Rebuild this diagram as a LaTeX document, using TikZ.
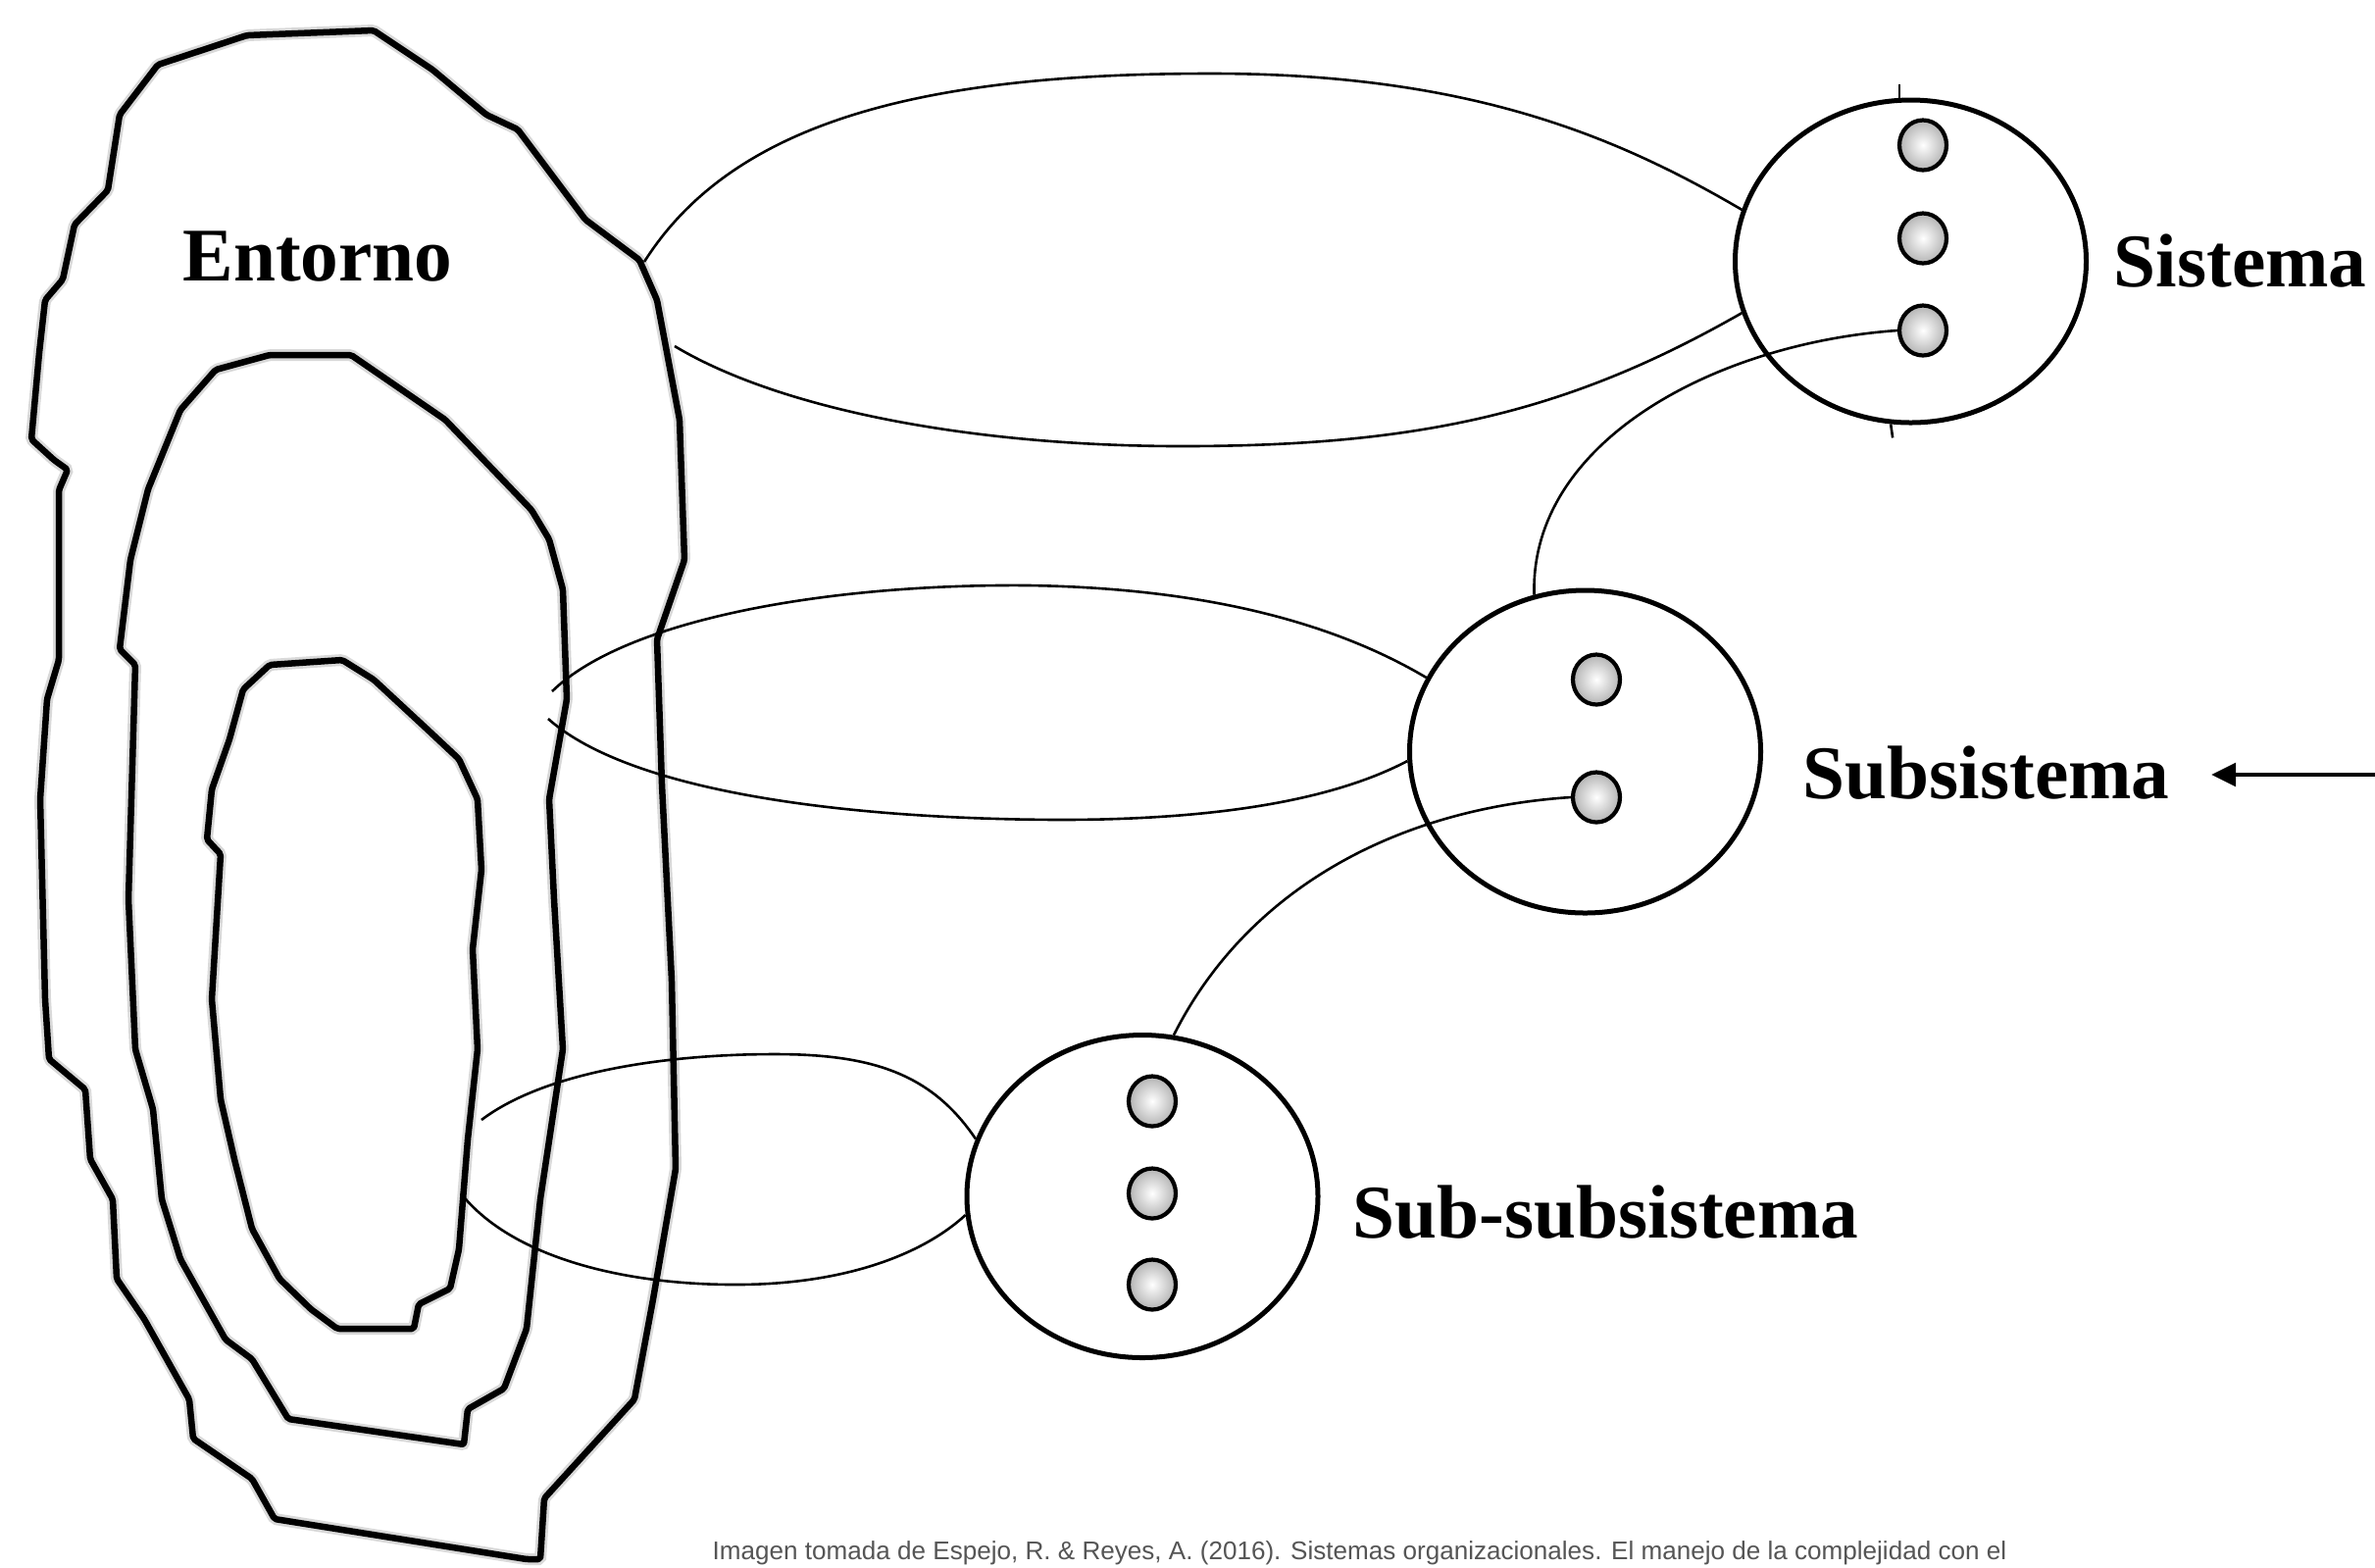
\documentclass[tikz,border=0pt]{standalone}
\usepackage{xcolor}
\usepackage{fontspec}
\setmainfont{Liberation Serif}
\newfontfamily\capfont{Liberation Sans}
\usepackage{tikz}
\usetikzlibrary{calc}
\usetikzlibrary{shapes.geometric}
\usetikzlibrary{arrows.meta}

\definecolor{capgray}{HTML}{555555}

\tikzset{
  blob/.style={line width=0.065000cm, line join=round, rounded corners=0.020000cm, preaction={draw=gray!30, line width=0.120000cm}},
  lens/.style={line width=0.026000cm},
  unit/.style={ellipse, draw, line width=0.050000cm, minimum width=3.580000cm, minimum height=3.290000cm, inner sep=0pt},
  part/.style={ellipse, draw, line width=0.042000cm, minimum width=0.480000cm, minimum height=0.510000cm, inner sep=0pt, shading=radial, inner color=white, outer color=gray!60},
  lbl/.style={font=\fontsize{22}{26}\selectfont\bfseries, inner sep=0pt, anchor=base west},
  pointer/.style={line width=0.033000cm, -{Triangle[length=0.250000cm,width=0.240000cm]}},
}

\begin{document}
\begin{tikzpicture}
                \useasboundingbox (0,0) rectangle (24.220000,-15.980000);

                % Drawing outer boundary (Entorno)
                \draw [blob] (3.810000,-0.310000) -- (4.410000,-0.710000) -- (4.960000,-1.170000) -- (5.280000,-1.320000) -- (5.970000,-2.240000) -- (6.520000,-2.650000) -- (6.700000,-3.060000) -- (6.930000,-4.280000) -- (6.980000,-5.710000) -- (6.700000,-6.520000) -- (6.750000,-8.000000) -- (6.850000,-10.000000) -- (6.890000,-11.920000) -- (6.660000,-13.250000) -- (6.470000,-14.270000) -- (5.550000,-15.280000) -- (5.510000,-15.900000) -- (5.370000,-15.900000) -- (2.800000,-15.490000) -- (2.570000,-15.080000) -- (1.970000,-14.670000) -- (1.930000,-14.270000) -- (1.470000,-13.450000) -- (1.190000,-13.040000) -- (1.150000,-12.230000) -- (0.920000,-11.820000) -- (0.870000,-11.110000) -- (0.500000,-10.800000) -- (0.460000,-10.190000) -- (0.410000,-8.150000) -- (0.480000,-7.130000) -- (0.600000,-6.730000) -- (0.600000,-5.000000) -- (0.690000,-4.790000) -- (0.550000,-4.690000) -- (0.320000,-4.480000) -- (0.400000,-3.600000) -- (0.460000,-3.060000) -- (0.640000,-2.850000) -- (0.760000,-2.290000) -- (1.100000,-1.940000) -- (1.220000,-1.170000) -- (1.610000,-0.660000) -- (2.520000,-0.360000) -- cycle;%

                % Drawing middle boundary
                \draw [blob] (3.580000,-3.620000) -- (4.540000,-4.280000) -- (5.420000,-5.200000) -- (5.600000,-5.500000) -- (5.740000,-6.010000) -- (5.780000,-7.130000) -- (5.600000,-8.150000) -- (5.650000,-9.170000) -- (5.740000,-10.700000) -- (5.510000,-12.230000) -- (5.370000,-13.550000) -- (5.140000,-14.160000) -- (4.770000,-14.370000) -- (4.730000,-14.730000) -- (2.940000,-14.470000) -- (2.570000,-13.860000) -- (2.300000,-13.660000) -- (1.840000,-12.840000) -- (1.650000,-12.230000) -- (1.560000,-11.310000) -- (1.380000,-10.700000) -- (1.310000,-9.170000) -- (1.380000,-6.780000) -- (1.220000,-6.620000) -- (1.330000,-5.710000) -- (1.510000,-4.990000) -- (1.840000,-4.180000) -- (2.200000,-3.770000) -- (2.750000,-3.620000) -- cycle;%

                % Drawing inner boundary
                \draw [blob] (3.490000,-6.730000) -- (3.810000,-6.930000) -- (4.360000,-7.440000) -- (4.680000,-7.740000) -- (4.870000,-8.150000) -- (4.910000,-8.870000) -- (4.820000,-9.680000) -- (4.870000,-10.700000) -- (4.770000,-11.620000) -- (4.680000,-12.740000) -- (4.590000,-13.140000) -- (4.270000,-13.300000) -- (4.220000,-13.550000) -- (3.440000,-13.550000) -- (3.170000,-13.350000) -- (2.850000,-13.040000) -- (2.570000,-12.530000) -- (2.390000,-11.820000) -- (2.250000,-11.210000) -- (2.160000,-10.190000) -- (2.250000,-8.710000) -- (2.110000,-8.560000) -- (2.160000,-8.050000) -- (2.340000,-7.540000) -- (2.480000,-7.030000) -- (2.750000,-6.780000) -- cycle;%

                % Marking label Entorno
                \node [lbl, anchor=base] (lent) at (3.240000,-2.860000) {Entorno};%

                % Marking circle Sistema with its three parts
                \node [unit] (sis) at (19.485000,-2.665000) {};%
                \node [part] (s1) at (19.610000,-1.480000) {};%
                \node [part] (s2) at (19.610000,-2.430000) {};%
                \node [part] (s3) at (19.610000,-3.370000) {};%
                \draw [lens] (sis.94) -- ++(0.000000,0.140000);%
                \draw [lens] (sis.263) -- ++(0.020000,-0.140000);%
                \node [lbl] (lsis) at (21.550000,-2.920000) {Sistema};%

                % Marking circle Subsistema with its two parts
                \node [unit] (sub) at (16.165000,-7.665000) {};%
                \node [part] (b1) at (16.280000,-6.930000) {};%
                \node [part] (b2) at (16.280000,-8.130000) {};%
                \node [lbl] (lsub) at (18.380000,-8.140000) {Subsistema};%

                % Marking circle Sub-subsistema with its three parts
                \node [unit] (ssub) at (11.650000,-12.200000) {};%
                \node [part] (u1) at (11.750000,-11.230000) {};%
                \node [part] (u2) at (11.750000,-12.170000) {};%
                \node [part] (u3) at (11.750000,-13.100000) {};%
                \node [lbl] (lssub) at (13.790000,-12.620000) {Sub-subsistema};%

                % Points where the lenses leave the boundaries
                \coordinate (e1) at (6.570000,-2.670000);%
                \coordinate (e2) at (6.880000,-3.530000);%
                \coordinate (m1) at (5.630000,-7.050000);%
                \coordinate (m2) at (5.590000,-7.330000);%
                \coordinate (i1) at (4.910000,-11.420000);%
                \coordinate (i2) at (4.700000,-12.170000);%

                % Drawing lens Entorno -- Sistema
                \draw [lens] (e1) .. controls (7.500000,-1.200000) and (9.500000,-0.750000) .. (12.350000,-0.750000) .. controls (15.000000,-0.750000) and (16.500000,-1.400000) .. (sis.163);%
                \draw [lens] (e2) .. controls (8.000000,-4.200000) and (10.000000,-4.550000) .. (12.050000,-4.550000) .. controls (14.500000,-4.550000) and (16.000000,-4.200000) .. (sis.197);%

                % Drawing lens middle boundary -- Subsistema
                \draw [lens] (m1) .. controls (6.400000,-6.300000) and (8.500000,-5.950000) .. (10.500000,-5.970000) .. controls (12.300000,-6.000000) and (13.600000,-6.350000) .. (sub.155);%
                \draw [lens] (m2) .. controls (6.400000,-8.050000) and (8.500000,-8.350000) .. (10.800000,-8.360000) .. controls (12.800000,-8.360000) and (13.800000,-8.050000) .. (sub.183);%

                % Drawing lens inner boundary -- Sub-subsistema
                \draw [lens] (i1) .. controls (5.600000,-10.900000) and (6.900000,-10.750000) .. (7.900000,-10.750000) .. controls (8.900000,-10.750000) and (9.500000,-10.950000) .. (ssub.161);%
                \draw [lens] (i2) .. controls (5.200000,-12.800000) and (6.300000,-13.100000) .. (7.500000,-13.100000) .. controls (8.600000,-13.100000) and (9.400000,-12.800000) .. (ssub.186);%

                % Drawing link s3 -- Subsistema
                \draw [lens] (s3.west) .. controls (17.500000,-3.500000) and (15.600000,-4.500000) .. (sub.108);%

                % Drawing link b2 -- Sub-subsistema
                \draw [lens] (b2.west) .. controls (14.200000,-8.250000) and (12.700000,-9.100000) .. (ssub.79);%

                % Drawing arrow to Subsistema
                \coordinate (afar) at (24.220000,-7.900000);%
                \draw [pointer, shorten >=0.420000cm] (afar) -- (lsub.east |- afar);%

                % Marking caption
                \node [anchor=base west, inner sep=0pt, text=capgray, font=\capfont\fontsize{7.42}{9}\selectfont] (cap) at (7.260000,-15.900000) {Imagen tomada de Espejo, R. \& Reyes, A. (2016). Sistemas organizacionales. El manejo de la complejidad con el};%
\end{tikzpicture}
\end{document}
